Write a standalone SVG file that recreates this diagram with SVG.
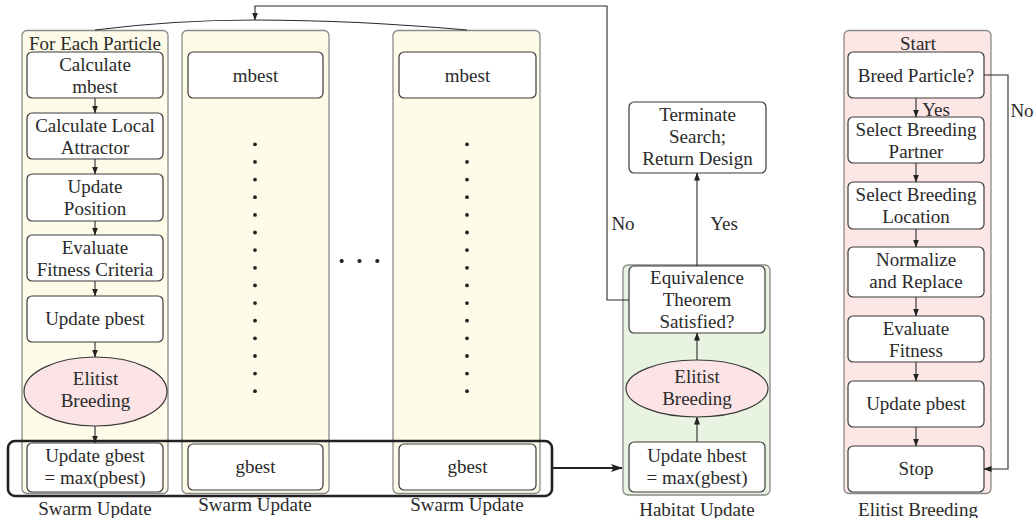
<svg xmlns="http://www.w3.org/2000/svg" width="1035" height="518" viewBox="0 0 1035 518">
<defs>
<marker id="arr" markerUnits="userSpaceOnUse" markerWidth="8" markerHeight="7" refX="7.5" refY="3.5" orient="auto">
<path d="M0,0.5 L8,3.5 L0,6.5 z" fill="#222"/>
</marker>
<marker id="arrBig" markerUnits="userSpaceOnUse" markerWidth="12" markerHeight="9" refX="11" refY="4.5" orient="auto">
<path d="M0,0.5 L12,4.5 L0,8.5 L2.5,4.5 z" fill="#222"/>
</marker>
</defs>
<style>
text{font-family:'Liberation Serif','DejaVu Serif',serif;font-size:19px;fill:#2a2a2a;text-anchor:middle}
.cont{stroke:#8a8a8a;stroke-width:1.3}
.yel{fill:#fffbe9}
.grn{fill:#e8f3e1}
.pnk{fill:#fde6e6}
.box{fill:#fff;stroke:#3a3a3a;stroke-width:1.2}
.ell{fill:#fce4e6;stroke:#3a3a3a;stroke-width:1.2}
.ln{fill:none;stroke:#2a2a2a;stroke-width:1.1}
.dot{fill:#222}
</style>
<rect width="1035" height="518" fill="#fff"/>

<!-- Swarm containers -->
<g id="swarm1">
<rect class="cont yel" x="22" y="30.5" width="146" height="463" rx="5"/>
<text x="95" y="50" font-family="Liberation Serif, serif">For Each Particle</text>
<text x="95" y="515">Swarm Update</text>
</g>
<g id="swarm2">
<rect class="cont yel" x="182" y="30.5" width="147" height="463" rx="5"/>
<text x="255" y="511">Swarm Update</text>
</g>
<g id="swarm3">
<rect class="cont yel" x="393" y="30.5" width="147" height="463" rx="5"/>
<text x="467" y="511">Swarm Update</text>
</g>
<g id="habitat">
<rect class="cont grn" x="623" y="265" width="147" height="230" rx="5"/>
<text x="697" y="516">Habitat Update</text>
</g>
<g id="elitist">
<rect class="cont pnk" x="844" y="30.5" width="147" height="463" rx="5"/>
<text x="918" y="50">Start</text>
<text x="918" y="516">Elitist Breeding</text>
</g>

<!-- Swarm 1 nodes -->
<g id="calc-mbest"><rect class="box" x="27" y="52" width="136" height="46" rx="5"/><text x="95" y="71">Calculate</text><text x="95" y="93">mbest</text></g>
<g id="calc-local"><rect class="box" x="27" y="113" width="136" height="46" rx="5"/><text x="95" y="132">Calculate Local</text><text x="95" y="154">Attractor</text></g>
<g id="update-position"><rect class="box" x="27" y="174" width="136" height="47" rx="5"/><text x="95" y="193">Update</text><text x="95" y="215">Position</text></g>
<g id="evaluate-fitness"><rect class="box" x="27" y="235" width="136" height="46" rx="5"/><text x="95" y="254">Evaluate</text><text x="95" y="276">Fitness Criteria</text></g>
<g id="update-pbest1"><rect class="box" x="27" y="296" width="136" height="46" rx="5"/><text x="95" y="325">Update pbest</text></g>
<g id="elitist1"><ellipse class="ell" cx="95.5" cy="391.5" rx="71.5" ry="34.5"/><text x="95.5" y="385">Elitist</text><text x="95.5" y="407">Breeding</text></g>
<g id="update-gbest"><rect class="box" x="27" y="443" width="136" height="49" rx="5"/><text x="95" y="462">Update gbest</text><text x="95" y="484">= max(pbest)</text></g>

<!-- Swarm 2 / 3 nodes -->
<g id="mbest2"><rect class="box" x="188" y="52" width="135" height="46" rx="5"/><text x="255.5" y="82">mbest</text></g>
<g id="gbest2"><rect class="box" x="188" y="444" width="135" height="46" rx="5"/><text x="255.5" y="473">gbest</text></g>
<g id="mbest3"><rect class="box" x="399" y="52" width="137" height="46" rx="5"/><text x="467.5" y="82">mbest</text></g>
<g id="gbest3"><rect class="box" x="399" y="444" width="137" height="46" rx="5"/><text x="467.5" y="473">gbest</text></g>

<!-- dots -->
<g id="dots">
<g class="dot">
<circle cx="255" cy="144.3" r="1.9"/><circle cx="255" cy="161.9" r="1.9"/><circle cx="255" cy="179.6" r="1.9"/><circle cx="255" cy="197.2" r="1.9"/><circle cx="255" cy="214.9" r="1.9"/><circle cx="255" cy="232.5" r="1.9"/><circle cx="255" cy="250.1" r="1.9"/><circle cx="255" cy="267.8" r="1.9"/><circle cx="255" cy="285.4" r="1.9"/><circle cx="255" cy="303.1" r="1.9"/><circle cx="255" cy="320.7" r="1.9"/><circle cx="255" cy="338.3" r="1.9"/><circle cx="255" cy="356" r="1.9"/><circle cx="255" cy="373.6" r="1.9"/><circle cx="255" cy="391.2" r="1.9"/>
<circle cx="467" cy="144.3" r="1.9"/><circle cx="467" cy="161.9" r="1.9"/><circle cx="467" cy="179.6" r="1.9"/><circle cx="467" cy="197.2" r="1.9"/><circle cx="467" cy="214.9" r="1.9"/><circle cx="467" cy="232.5" r="1.9"/><circle cx="467" cy="250.1" r="1.9"/><circle cx="467" cy="267.8" r="1.9"/><circle cx="467" cy="285.4" r="1.9"/><circle cx="467" cy="303.1" r="1.9"/><circle cx="467" cy="320.7" r="1.9"/><circle cx="467" cy="338.3" r="1.9"/><circle cx="467" cy="356" r="1.9"/><circle cx="467" cy="373.6" r="1.9"/><circle cx="467" cy="391.2" r="1.9"/>
<circle cx="341.7" cy="261" r="2.1"/><circle cx="359.5" cy="261" r="2.1"/><circle cx="377.3" cy="261" r="2.1"/>
</g>
</g>

<!-- Habitat nodes -->
<g id="terminate"><rect class="box" x="629" y="102" width="137" height="71" rx="5"/><text x="697.5" y="121">Terminate</text><text x="697.5" y="143">Search;</text><text x="697.5" y="165">Return Design</text></g>
<g id="equivalence"><rect class="box" x="629" y="266" width="136" height="67" rx="5"/><text x="697" y="284">Equivalence</text><text x="697" y="306">Theorem</text><text x="697" y="328">Satisfied?</text></g>
<g id="elitist2"><ellipse class="ell" cx="697" cy="388.5" rx="71" ry="28.5"/><text x="697" y="383">Elitist</text><text x="697" y="405">Breeding</text></g>
<g id="update-hbest"><rect class="box" x="629" y="442" width="136" height="50" rx="5"/><text x="697" y="462">Update hbest</text><text x="697" y="484">= max(gbest)</text></g>

<!-- Elitist breeding nodes -->
<g id="breed-particle"><rect class="box" x="848" y="52" width="136" height="46" rx="5"/><text x="916" y="82">Breed Particle?</text></g>
<g id="select-partner"><rect class="box" x="848" y="117" width="136" height="46" rx="5"/><text x="916" y="136">Select Breeding</text><text x="916" y="158">Partner</text></g>
<g id="select-location"><rect class="box" x="848" y="182" width="136" height="47" rx="5"/><text x="916" y="201">Select Breeding</text><text x="916" y="223">Location</text></g>
<g id="normalize"><rect class="box" x="848" y="247" width="136" height="50" rx="5"/><text x="916" y="266">Normalize</text><text x="916" y="288">and Replace</text></g>
<g id="evaluate-fitness2"><rect class="box" x="848" y="316" width="136" height="46" rx="5"/><text x="916" y="335">Evaluate</text><text x="916" y="357">Fitness</text></g>
<g id="update-pbest2"><rect class="box" x="848" y="381" width="136" height="46" rx="5"/><text x="916" y="410">Update pbest</text></g>
<g id="stop"><rect class="box" x="848" y="446" width="136" height="46" rx="5"/><text x="916" y="475">Stop</text></g>

<!-- Bottom grouping rect -->
<g id="gbest-group">
<rect x="8" y="441" width="544" height="55" rx="7" fill="none" stroke="#222" stroke-width="2.6"/>
</g>

<!-- Connectors -->
<g id="connectors">
<line class="ln" x1="95" y1="98" x2="95" y2="113" marker-end="url(#arr)"/>
<line class="ln" x1="95" y1="159" x2="95" y2="174" marker-end="url(#arr)"/>
<line class="ln" x1="95" y1="221" x2="95" y2="235" marker-end="url(#arr)"/>
<line class="ln" x1="95" y1="281" x2="95" y2="296" marker-end="url(#arr)"/>
<line class="ln" x1="95" y1="342" x2="95" y2="357" marker-end="url(#arr)"/>
<line class="ln" x1="95" y1="426" x2="95" y2="443" marker-end="url(#arr)"/>

<line class="ln" x1="916" y1="98" x2="916" y2="117" marker-end="url(#arr)"/>
<line class="ln" x1="916" y1="163" x2="916" y2="182" marker-end="url(#arr)"/>
<line class="ln" x1="916" y1="229" x2="916" y2="247" marker-end="url(#arr)"/>
<line class="ln" x1="916" y1="297" x2="916" y2="316" marker-end="url(#arr)"/>
<line class="ln" x1="916" y1="362" x2="916" y2="381" marker-end="url(#arr)"/>
<line class="ln" x1="916" y1="427" x2="916" y2="446" marker-end="url(#arr)"/>
<polyline class="ln" points="984,75 1008,75 1008,469 984,469" marker-end="url(#arr)"/>
<text x="936" y="116">Yes</text>
<text x="1022" y="117">No</text>

<line class="ln" x1="697" y1="442" x2="697" y2="417" marker-end="url(#arr)"/>
<line class="ln" x1="697" y1="360" x2="697" y2="333" marker-end="url(#arr)"/>
<line class="ln" x1="697" y1="266" x2="697" y2="173" marker-end="url(#arr)"/>
<text x="724" y="230">Yes</text>
<polyline class="ln" points="629,300 607,300 607,6 255,6 255,20" marker-end="url(#arr)"/>
<text x="623" y="230">No</text>
<path class="ln" d="M95,30 C150,23 200,20 255,20 C330,20 400,24 467,30"/>

<line x1="553" y1="468" x2="622" y2="468" stroke="#222" stroke-width="2" marker-end="url(#arrBig)"/>
</g>
</svg>
